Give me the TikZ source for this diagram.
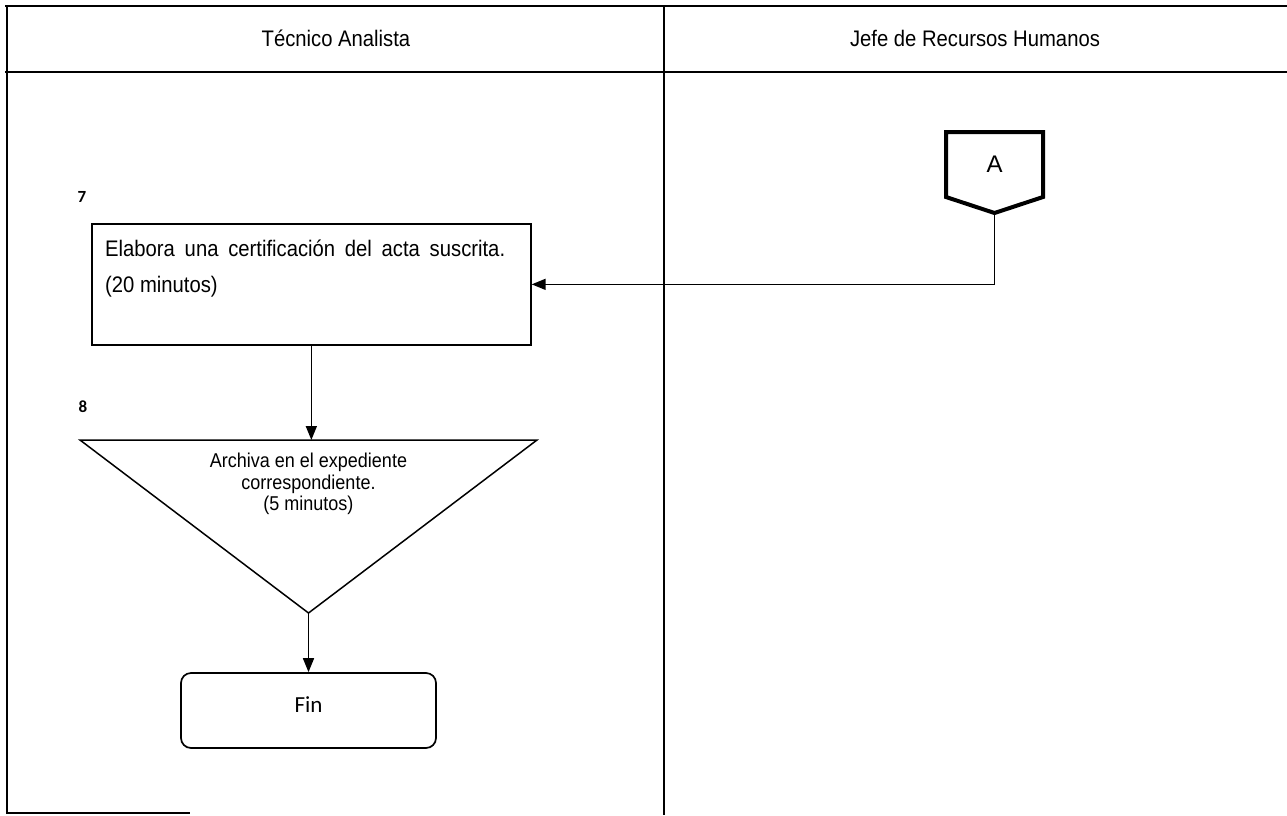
\documentclass[tikz,border=0pt]{standalone}
\usepackage{fontspec}
\setmainfont{Liberation Sans}
\newfontfamily\nar{Liberation Sans}[FakeStretch=0.9]
\newfontfamily\carl{Carlito}
\usetikzlibrary{arrows.meta}
\tikzset{
  arr/.style={line width=1.6pt,-{Triangle[length=14pt,width=11pt]}},
  frame/.style={line width=1.6pt},
  thick frame/.style={line width=2.8pt},
  lbl/.style={inner sep=0pt},
}
\begin{document}
\begin{tikzpicture}[x=1pt,y=-1pt]
\useasboundingbox (0,0) rectangle (1287,815);
% lanes
\draw[thick frame] (5,6) -- (1287,6);
\draw[thick frame] (5,72) -- (1287,72);
\draw[frame] (7,5) -- (7,813) -- (190,813);
\draw[line width=1.4pt] (664,5) -- (664,815);
\node[lbl, font=\nar\fontsize{22.5}{26}\selectfont] (h1) at (336,38) {Técnico Analista};
\node[lbl, font=\nar\fontsize{22.5}{26}\selectfont] (h2) at (975,38) {Jefe de Recursos Humanos};
% connector A
\draw[line width=4pt, line join=miter] (946,132) -- (1043,132) -- (1043,197) -- (994.5,213) -- (946,197) -- cycle;
\coordinate (Abot) at (994.5,213);
\node[lbl, font=\fontsize{24}{26}\selectfont] (A) at (994.5,164) {A};
% step 7
\node[lbl, font=\carl\bfseries\fontsize{17}{19}\selectfont] (n7) at (82,197) {7};
\node[draw, line width=1.7pt, minimum width=439pt, minimum height=121pt, anchor=north west, inner sep=0pt] (box) at (91,223) {};
\node[lbl, anchor=west, font=\nar\fontsize{22.5}{26}\selectfont] (t1) at (105,248) {\makebox[400pt][s]{Elabora una certificación del acta suscrita.}};
\node[lbl, anchor=west, font=\nar\fontsize{22.5}{26}\selectfont] (t2) at (105,287) {(20 minutos)};
\draw[arr] (Abot) |- (box.east);
% step 8
\node[lbl, font=\carl\bfseries\fontsize{17}{19}\selectfont] (n8) at (83,407) {8};
\draw[line width=1.5pt, line join=miter] (80,440) -- (537,440) -- (308.5,613) -- cycle;
\coordinate (triTop) at (308.5,440);
\coordinate (triBot) at (308.5,613);
\node[lbl, align=center, font=\nar\fontsize{20}{21.5}\selectfont] (tt) at (308.5,484) {Archiva en el expediente\\ correspondiente.\\ (5 minutos)};
\draw[arr] (box.south) -- (box.south |- triTop);
% fin
\node[draw, line width=1.7pt, rounded corners=10pt, minimum width=255pt, minimum height=75pt, inner sep=0pt] (fin) at (308.5,710.5) {};
\node[lbl, font=\carl\fontsize{23}{26}\selectfont] (fint) at (308.5,705) {Fin};
\draw[arr] (triBot) -- (fin.north);
\end{tikzpicture}
\end{document}
